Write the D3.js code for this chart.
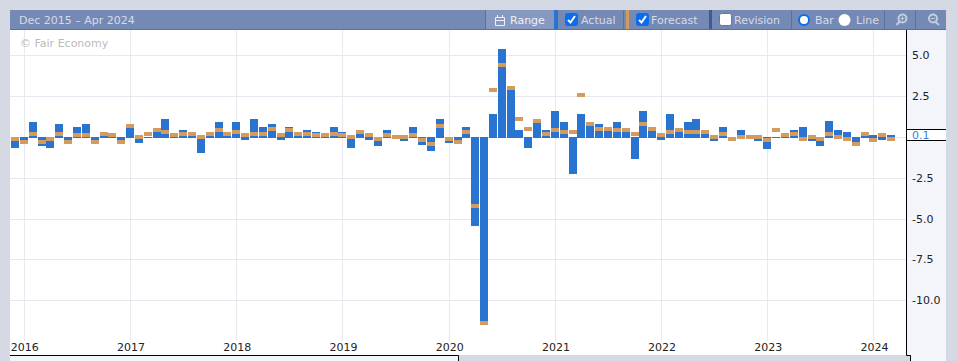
<!DOCTYPE html>
<html>
<head>
<meta charset="utf-8">
<script src="https://cdn.jsdelivr.net/npm/d3@7"></script>
<style>
html, body { margin: 0; padding: 0; background: #d5d9e3; overflow: hidden; }
svg { display: block; }
text { font-family: "DejaVu Sans", sans-serif; font-size: 11px; }
</style>
</head>
<body>
<svg id="chart" width="957" height="361"></svg>
<script>
// Dec 2015 - Mar 2024 monthly values
const actual = [
    -0.6, -0.2, 0.9, -0.5, -0.6, 0.8, -0.2, 0.6, 0.8, -0.2, 0.1, 0.0,
    -0.2, 0.6, -0.3, 0.0, 0.3, 1.1, 0.0, 0.4, 0.1, -0.9, 0.1, 0.9,
    0.1, 0.9, -0.1, 1.1, 0.6, 0.8, -0.1, 0.6, 0.1, 0.4, 0.3, 0.0,
    0.6, 0.3, -0.6, 0.2, -0.1, -0.5, 0.4, 0.0, -0.2, 0.6, -0.4, -0.8,
    1.1, -0.3, -0.2, 0.6, -5.4, -11.2, 1.4, 5.4, 2.9, 0.4, -0.6, 0.9,
    0.4, 1.6, 0.9, -2.2, 1.4, 0.7, 0.8, 0.4, 0.9, 0.3, -1.3, 1.6,
    0.4, -0.1, 1.4, 0.3, 0.9, 1.1, 0.2, -0.2, 0.6, 0.0, 0.4, 0.0,
    -0.2, -0.7, 0.0, 0.0, 0.4, 0.6, -0.2, -0.5, 1.0, 0.4, 0.3, -0.4,
    0.1, 0.1, -0.1, 0.1
];
const forecast = [
    -0.1, -0.3, 0.2, -0.3, -0.1, 0.2, -0.3, 0.1, 0.1, -0.3, 0.2, 0.1,
    -0.3, 0.7, 0.0, 0.2, 0.4, 0.3, 0.1, 0.2, 0.2, 0.0, 0.2, 0.4,
    0.2, 0.3, 0.1, 0.2, 0.2, 0.5, 0.1, 0.4, 0.2, 0.2, 0.1, 0.1,
    0.2, 0.1, 0.0, 0.3, 0.1, -0.1, 0.1, 0.0, 0.0, 0.1, -0.2, -0.4,
    0.7, -0.1, -0.3, 0.3, -4.2, -11.4, 2.9, 4.4, 3.0, 1.1, 0.5, 1.0,
    0.2, 0.45, 0.3, 0.3, 2.6, 0.8, 0.5, 0.5, 0.4, 0.45, 0.2, 0.8,
    0.5, 0.15, 0.3, 0.45, 0.3, 0.3, 0.3, 0.0, 0.2, -0.1, 0.0, 0.0,
    0.0, -0.2, 0.45, 0.1, 0.2, -0.1, 0.0, -0.1, 0.2, 0.0, -0.1, -0.4,
    0.2, -0.2, 0.1, -0.1
];
const years = [2016, 2017, 2018, 2019, 2020, 2021, 2022, 2023, 2024];
const yTicks = [5, 2.5, -2.5, -5, -7.5, -10];
const gridTicks = [5, 2.5, 0, -2.5, -5, -7.5, -10];
const lastValue = 0.1;

const colors = {
    page: '#d5d9e3', pane: '#f3f5fb', header: '#7589b5', headerLine: '#5b6fa3',
    button: '#8799c1', grid: '#e8e8f0', blue: '#2974d0', orange: '#d49b5e',
    dark: '#3c5a96', label: '#d5dbe9'
};

const svg = d3.select('#chart');
const x = d3.scaleLinear().domain([0, actual.length - 1]).range([15, 891.2]);
const y = d3.scaleLinear().domain([5, -10]).range([55.3, 300.3]);
const yearPos = (yr) => (yr - 2016) * 12 + 1;

// panes
svg.append('rect').attr('x', 10).attr('y', 30).attr('width', 896).attr('height', 325).attr('fill', '#fff');
svg.append('rect').attr('x', 907).attr('y', 30).attr('width', 39).attr('height', 331).attr('fill', colors.pane);
svg.append('rect').attr('x', 10).attr('y', 355).attr('width', 448).attr('height', 6).attr('fill', colors.pane);

// grid
svg.append('g').selectAll('line').data(gridTicks).join('line')
    .attr('x1', 10).attr('x2', 906)
    .attr('y1', d => Math.round(y(d)) + 0.5).attr('y2', d => Math.round(y(d)) + 0.5)
    .attr('stroke', colors.grid);
svg.append('g').selectAll('line').data(years).join('line')
    .attr('x1', d => Math.round(x(yearPos(d))) + 0.5).attr('x2', d => Math.round(x(yearPos(d))) + 0.5)
    .attr('y1', 30).attr('y2', 341)
    .attr('stroke', colors.grid);

svg.append('text').attr('x', 20).attr('y', 47).attr('fill', '#bbb').text('© Fair Economy');

// bars
svg.append('g').selectAll('rect').data(actual).join('rect')
    .attr('x', (d, i) => Math.round(x(i) - 4))
    .attr('width', 8)
    .attr('y', d => Math.round(Math.min(y(d), y(0))))
    .attr('height', d => Math.round(Math.abs(y(d) - y(0))) + 1)
    .attr('fill', colors.blue);
svg.append('g').selectAll('rect').data(forecast).join('rect')
    .attr('x', (d, i) => Math.round(x(i) - 4))
    .attr('width', 8)
    .attr('y', d => Math.round(y(d) - 2))
    .attr('height', 4)
    .attr('fill', colors.orange);

// axes
const yAxis = d3.axisRight(y).tickValues(yTicks).tickSize(0).tickPadding(5)
    .tickFormat(d => d.toFixed(1));
const yG = svg.append('g').attr('transform', 'translate(907,0)').call(yAxis);
yG.select('.domain').remove();
yG.selectAll('text').attr('fill', '#222').style('font-size', '11px').style('font-family', '"DejaVu Sans"');

const xAxis = d3.axisBottom(x).tickValues(years.map(yearPos)).tickSize(0).tickPadding(0)
    .tickFormat(d => 2016 + (d - 1) / 12);
const xG = svg.append('g').attr('transform', 'translate(0.5,343)').call(xAxis);
xG.select('.domain').remove();
xG.selectAll('text').attr('fill', '#222').style('font-size', '11px').style('font-family', '"DejaVu Sans"');

// borders around the axis panes
svg.append('path')
    .attr('d', 'M906.5,30V355.5H910.5V361M10,355.5H458.5V361')
    .attr('fill', 'none').attr('stroke', '#000');
svg.append('rect').attr('x', 459).attr('y', 356).attr('width', 447).attr('height', 5).attr('fill', colors.page);
svg.append('rect').attr('x', 907).attr('y', 356).attr('width', 3).attr('height', 5).attr('fill', colors.page);

// current value label
svg.append('rect').attr('x', 907).attr('y', 129.5).attr('width', 39).attr('height', 11).attr('fill', '#fff');
svg.append('path').attr('d', 'M906,129.5H946M906,140.5H946').attr('stroke', '#000');
svg.append('text').attr('x', 912).attr('y', 139).attr('fill', '#3b82d8').text(lastValue.toFixed(1));

// toolbar
const bar = svg.append('g');
bar.append('rect').attr('x', 10).attr('y', 10).attr('width', 936).attr('height', 20).attr('fill', colors.header);
bar.append('rect').attr('x', 10).attr('y', 29).attr('width', 936).attr('height', 1).attr('fill', colors.headerLine);
bar.append('rect').attr('x', 486).attr('y', 10).attr('width', 68).attr('height', 19).attr('fill', colors.button);
bar.append('text').attr('x', 19).attr('y', 24).attr('fill', colors.label).text('Dec 2015 – Apr 2024');

[[554, 4, colors.blue], [626, 3, colors.orange], [709, 3, colors.dark]].forEach(([px, w, c]) => {
    bar.append('rect').attr('x', px).attr('y', 10).attr('width', w).attr('height', 19).attr('fill', c);
});
[485, 623, 791, 884, 915].forEach(px => {
    bar.append('rect').attr('x', px).attr('y', 10).attr('width', 1).attr('height', 19).attr('fill', colors.headerLine);
});

// calendar icon
bar.append('path').attr('d', 'M495.5,17.5H504.5V25.5H495.5ZM495.5,20.5H504.5M497.5,15V18M502.5,15V18')
    .attr('fill', 'none').attr('stroke', '#eef1f7');
bar.append('text').attr('x', 510).attr('y', 24).attr('fill', '#eef1f7').text('Range');

function checkbox(px, checked) {
    bar.append('rect').attr('x', px + 0.5).attr('y', 13.5).attr('width', 12).attr('height', 12).attr('rx', 2)
        .attr('fill', checked ? '#0a6cf0' : '#fff').attr('stroke', checked ? '#0a6cf0' : '#767676');
    if (checked) {
        bar.append('path').attr('d', `M${px + 3},20 L${px + 5.5},22.5 L${px + 10},16`)
            .attr('fill', 'none').attr('stroke', '#fff').attr('stroke-width', 2);
    }
}
checkbox(565, true);
bar.append('text').attr('x', 581).attr('y', 24).attr('fill', colors.label).text('Actual');
checkbox(636, true);
bar.append('text').attr('x', 651).attr('y', 24).attr('fill', colors.label).text('Forecast');
checkbox(719, false);
bar.append('text').attr('x', 734).attr('y', 24).attr('fill', colors.label).text('Revision');

bar.append('circle').attr('cx', 804).attr('cy', 20).attr('r', 5).attr('fill', '#fff').attr('stroke', '#0a6cf0').attr('stroke-width', 2);
bar.append('text').attr('x', 815).attr('y', 24).attr('fill', colors.label).text('Bar');
bar.append('circle').attr('cx', 844.5).attr('cy', 20).attr('r', 6).attr('fill', '#fff');
bar.append('text').attr('x', 856).attr('y', 24).attr('fill', colors.label).text('Line');

// zoom icons
[[901.5, true], [932, false]].forEach(([cx, plus]) => {
    const c = '#c3cce0';
    bar.append('circle').attr('cx', cx + 1).attr('cy', 18.5).attr('r', 4).attr('fill', 'none').attr('stroke', c).attr('stroke-width', 2);
    bar.append('line').attr('x1', cx + (plus ? -2 : 3)).attr('y1', 21.5).attr('x2', cx + (plus ? -5 : 7)).attr('y2', 25)
        .attr('stroke', c).attr('stroke-width', 2);
    bar.append('path').attr('d', plus ? `M${cx - 1},18.5H${cx + 3}M${cx + 1},16.5V20.5` : `M${cx - 1},18.5H${cx + 3}`)
        .attr('stroke', c);
});
</script>
</body>
</html>
